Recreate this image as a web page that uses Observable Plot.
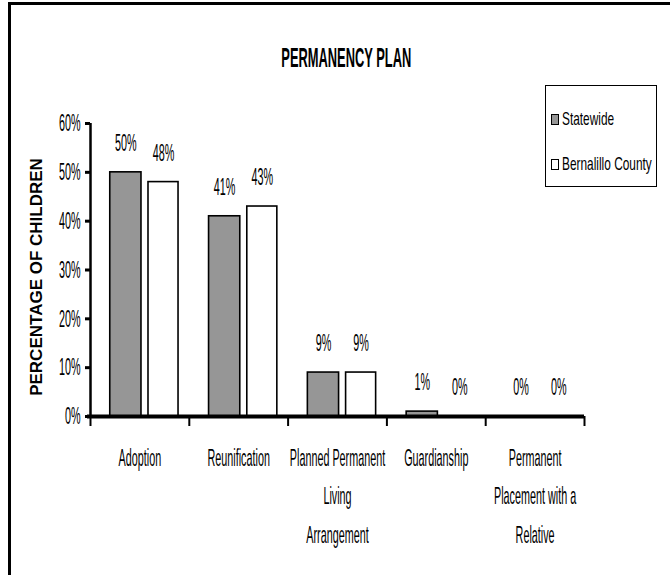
<!DOCTYPE html>
<html>
<head>
<meta charset="utf-8">
<script src="https://cdn.jsdelivr.net/npm/d3@7"></script>
<script src="https://cdn.jsdelivr.net/npm/@observablehq/plot@0.6"></script>
<style>
  html, body { margin: 0; padding: 0; background: #fff; }
  #wrap { position: relative; width: 670px; height: 575px; overflow: hidden; background: #fff; }
  #frame { position: absolute; left: 8px; top: 2px; width: 800px; height: 700px;
           border-left: 3px solid #000; border-top: 3px solid #000; box-sizing: border-box; }
  #chart { position: absolute; left: 0; top: 0; }
  .cond { font-family: "Liberation Sans", Arial, sans-serif; display: inline-block;
          transform-origin: left center; white-space: nowrap; }
  #title { position: absolute; top: 42px; left: 0; width: 692px; text-align: center; }
  #title span { font-weight: bold; font-size: 28px; transform: scaleX(0.46); transform-origin: center center; }
  #legend { position: absolute; left: 545px; top: 85px; width: 112px; height: 102px;
            border: 1px solid #000; box-sizing: border-box; background: #fff; }
  .item { position: absolute; left: 5px; height: 20px; display: flex; align-items: center; }
  .sw { width: 6px; height: 9px; border: 1.5px solid #000; margin-right: 3px; flex: none; }
  .item span.cond { font-size: 19px; transform: scaleX(0.625); }
</style>
</head>
<body>
<div id="wrap">
  <div id="frame"></div>
  <div id="chart"></div>
  <div id="title"><span class="cond">PERMANENCY PLAN</span></div>
  <div id="legend"></div>
</div>
<script>
// ---- data ----
const categories = ["Adoption", "Reunification", "Planned Permanent Living Arrangement", "Guardianship", "Permanent Placement with a Relative"];
const categoryLabels = ["Adoption", "Reunification", "Planned Permanent\nLiving\nArrangement", "Guardianship", "Permanent\nPlacement with a\nRelative"];
const seriesNames = ["Statewide", "Bernalillo County"];
const statewide = [50, 41, 9, 1, 0];
const bernalillo = [48, 43, 9, 0, 0];
const yTicks = [0, 10, 20, 30, 40, 50, 60];
const seriesColors = ["#969696", "#ffffff"];
const yLabel = "PERCENTAGE OF CHILDREN";
const chartTitle = "PERMANENCY PLAN";

// ---- table ----
const seriesValues = [statewide, bernalillo];
const slot = [[0.2, 0.516], [0.587, 0.891]]; // position of each series within its category band
const rows = [];
seriesValues.forEach((vals, s) => vals.forEach((v, i) => rows.push({
  category: categories[i], series: seriesNames[s], s, value: v,
  x1: i + slot[s][0], x2: i + slot[s][1], xm: i + (slot[s][0] + slot[s][1]) / 2
})));
const catRows = categories.map((c, i) => ({category: c, label: categoryLabels[i], xm: i + 0.5}));
const boundaries = d3.range(categories.length + 1);

const FS = 24;
const plot = Plot.plot({
  width: 670, height: 575,
  marginLeft: 90, marginRight: 86, marginTop: 123, marginBottom: 159,
  style: {fontFamily: '"Liberation Sans", Arial, sans-serif', fontSize: FS + "px", color: "#000", background: "transparent"},
  x: {domain: [0, categories.length], axis: null},
  y: {domain: [0, 60], axis: null},
  color: {domain: seriesNames, range: seriesColors},
  marks: [
    Plot.rectY(rows, {x1: "x1", x2: "x2", y: "value", fill: "series", stroke: "#000", strokeWidth: 1.6}),
    Plot.ruleX([0], {y1: 0, y2: 60, stroke: "#000", strokeWidth: 2.5}),
    Plot.axisY({ticks: yTicks, tickFormat: d => d + "%", tickSize: 5, tickPadding: 5, strokeWidth: 3, label: null, fontSize: FS}),
    Plot.axisX({ticks: boundaries, tickFormat: () => "", tickSize: 10, strokeWidth: 2, label: null}),
    Plot.ruleY([0], {stroke: "#000", strokeWidth: 4, insetLeft: -3}),
    Plot.text(rows, {x: "xm", y: "value", text: d => d.value + "%", dy: -29, fontSize: FS}),
    Plot.text(catRows, {x: "xm", y: 0, text: "label", lineAnchor: "top", dy: 22, lineHeight: 38.5 / FS, fontSize: FS}),
    Plot.text([yLabel], {frameAnchor: "left", textAnchor: "middle", rotate: -90, dx: -54, dy: 7, fontWeight: "bold", fontSize: 17})
  ]
});
document.getElementById("chart").appendChild(plot);

// condensed look of the original typeface (all chart texts except the rotated axis title)
const k = 0.45;
plot.querySelectorAll("text").forEach(t => {
  if (t.textContent === yLabel) return;
  const x = +t.getAttribute("x") || 0;
  const tr = t.getAttribute("transform") || "";
  t.setAttribute("transform", `${tr} translate(${x},0) scale(${k},1) translate(${-x},0)`);
});

document.querySelector("#title span").textContent = chartTitle;
const legend = document.getElementById("legend");
seriesNames.forEach((name, s) => {
  const it = document.createElement("div");
  it.className = "item";
  it.style.top = [23, 68][s] + "px";
  const sw = document.createElement("div");
  sw.className = "sw"; sw.style.background = seriesColors[s];
  const tx = document.createElement("span");
  tx.className = "cond"; tx.textContent = name;
  it.appendChild(sw); it.appendChild(tx);
  legend.appendChild(it);
});
</script>
</body>
</html>
